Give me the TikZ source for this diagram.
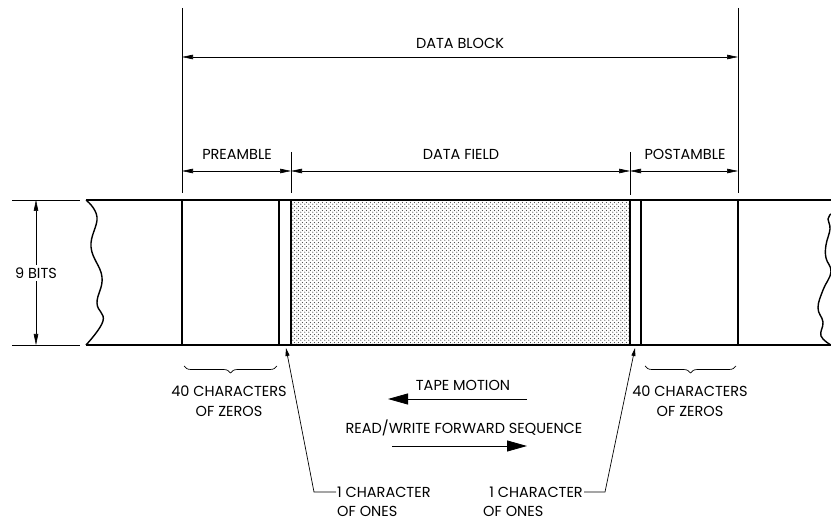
\documentclass[tikz,border=0pt]{standalone}
\usepackage{fontspec}
\setmainfont{Poppins}
\usetikzlibrary{arrows.meta,patterns,decorations.pathreplacing}

\pgfdeclarepatternformonly{fielddots}{\pgfpointorigin}{\pgfqpoint{3.6pt}{3.6pt}}{\pgfqpoint{3.6pt}{3.6pt}}{
  \pgfpathcircle{\pgfqpoint{0.9pt}{0.9pt}}{0.65pt}
  \pgfpathcircle{\pgfqpoint{2.7pt}{2.7pt}}{0.65pt}
  \pgfusepath{fill}
}

\tikzset{
  lbl/.style={font=\fontsize{14.5}{20}\selectfont,inner sep=1pt},
  dimline/.style={line width=.6pt,{Triangle[length=11pt,width=4.5pt]}-{Triangle[length=11pt,width=4.5pt]}},
  extline/.style={line width=.8pt},
  tapeline/.style={line width=1.4pt},
  motion/.style={line width=.8pt,-{Triangle[length=20pt,width=11pt]}},
  leader/.style={line width=.7pt,-{Triangle[length=8pt,width=4pt]}},
  zbrace/.style={line width=.7pt,decorate,decoration={brace,mirror,amplitude=7pt}}
}

\begin{document}
\begin{tikzpicture}[x=1pt,y=-1pt]
  \useasboundingbox (0,0) rectangle (831,521);
  % data field
  \fill[pattern=fielddots,pattern color=black!75] (291,200) rectangle (630,345);
  % tape edges
  \draw[tapeline] (86,200) -- (831,200);
  \draw[tapeline] (86,345) -- (831,345);
  \draw[tapeline] plot[smooth,tension=.7] coordinates {(86,200) (97,217) (91,247) (102,277) (97,303) (103,321) (86,345)};
  \draw[tapeline] plot[smooth,tension=.7] coordinates {(831,214) (828,219) (830,229) (826,245) (826,258) (831,272) (823,290) (818,308) (823,322) (821,336) (831,345)};
  \foreach \x in {182,279,291,630,641,738}
    \draw[tapeline] (\x,200) -- (\x,345);
  % extension lines
  \draw[extline] (12,200) -- (80,200);
  \draw[extline] (12,345) -- (80,345);
  \draw[extline] (182,8) -- (182,193);
  \draw[extline] (738,8) -- (738,193);
  \draw[extline] (291,152) -- (291,193);
  \draw[extline] (630,152) -- (630,195);
  % dimensions
  \draw[dimline] (182,57) -- (738,57);
  \draw[dimline] (182,171) -- (291,171);
  \draw[dimline] (291,171) -- (630,171);
  \draw[dimline] (630,171) -- (738,171);
  \draw[dimline] (36,200) -- (36,345);
  \node[lbl] (block) at (460,43) {DATA BLOCK};
  \node[lbl] (pre) at (237,154) {PREAMBLE};
  \node[lbl] (field) at (461,154) {DATA FIELD};
  \node[lbl] (post) at (685,154) {POSTAMBLE};
  \node[lbl,fill=white,inner sep=3pt] (bits) at (36,273) {9 BITS};
  % zeros
  \draw[zbrace] (184,366) -- (277,366);
  \draw[zbrace] (645,366) -- (736,366);
  \node[lbl,align=center] (zerosL) at (229,401) {40 CHARACTERS\\OF ZEROS};
  \node[lbl,align=center] (zerosR) at (690,401) {40 CHARACTERS\\OF ZEROS};
  % motion
  \node[lbl] (motion) at (463,385) {TAPE MOTION};
  \node[lbl] (seq) at (464,428) {READ/WRITE FORWARD SEQUENCE};
  \draw[motion] (527,399) -- (388,399);
  \draw[motion] (392,446) -- (527,446);
  % ones
  \coordinate (tipL) at (286,348);
  \coordinate (tipR) at (635,348);
  \node[lbl,anchor=west] (onesL) at (336,492) {1 CHARACTER};
  \node[lbl,anchor=west] (onesLb) at (336,511) {OF ONES};
  \node[lbl,anchor=east] (onesR) at (584,492) {1 CHARACTER};
  \node[lbl,anchor=west] (onesRb) at (482,511) {OF ONES};
  \draw[leader] (onesL.west) -- ++(-22,0) -- (tipL);
  \draw[leader] (onesR.east) -- ++(21,0) -- (tipR);
\end{tikzpicture}
\end{document}
